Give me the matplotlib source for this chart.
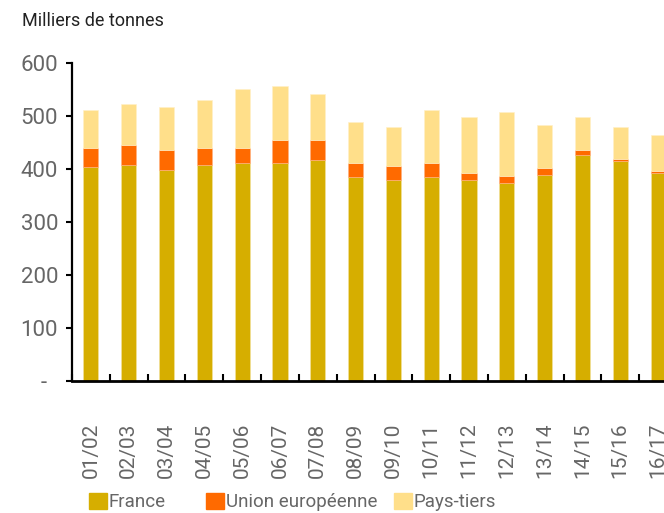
import matplotlib
matplotlib.use("Agg")
import matplotlib.pyplot as plt
import numpy as np
from matplotlib.patches import Patch

campagnes = ["01/02", "02/03", "03/04", "04/05", "05/06", "06/07", "07/08", "08/09",
             "09/10", "10/11", "11/12", "12/13", "13/14", "14/15", "15/16", "16/17"]
france = [403, 408, 398, 408, 412, 412, 417, 384, 379, 384, 379, 374, 389, 427, 416, 393]
union_europeenne = [37, 37, 38, 32, 28, 43, 38, 28, 27, 28, 14, 13, 13, 9, 2, 4]
pays_tiers = [72, 77, 81, 91, 111, 101, 86, 77, 73, 100, 105, 120, 81, 62, 61, 68]
series = ["France", "Union européenne", "Pays-tiers"]

c_fr = "#D6AE00"
c_ue = "#FF6A00"
c_pt = "#FFDF8A"
grey = "#666666"

plt.rcParams['font.family'] = ['Roboto', 'DejaVu Sans']

fig = plt.figure(figsize=(6.64, 5.13), dpi=100)
ax = fig.add_axes([72 / 664, 1 - 381 / 513, 605 / 664, 318 / 513])

x = np.arange(len(campagnes))
fr = np.array(france)
ue = np.array(union_europeenne)
pt = np.array(pays_tiers)
w = 0.4
ax.bar(x, fr, w, color=c_fr, edgecolor="#F3E3A0", linewidth=0.4)
ax.bar(x, ue, w, bottom=fr, color=c_ue, edgecolor="#FFB080", linewidth=0.4)
ax.bar(x, pt, w, bottom=fr + ue, color=c_pt, edgecolor="#FFF0C8", linewidth=0.4)

ax.set_xlim(-0.5, len(campagnes) - 0.5)
ax.set_ylim(0, 600)
ax.set_yticks(range(0, 601, 100))
ax.set_yticklabels(["-  "] + [str(v) for v in range(100, 601, 100)])

ax.set_xticks(x)
ax.set_xticklabels(campagnes, rotation=90, va="top")
ax.set_xticks(np.arange(-0.5, len(campagnes), 1), minor=True)

for s in ["top", "right"]:
    ax.spines[s].set_visible(False)
ax.spines["left"].set_linewidth(1.6)
ax.spines["bottom"].set_linewidth(2.0)

ax.tick_params(axis="y", direction="out", length=4, width=1.5, pad=6,
               labelsize=16, labelcolor=grey)
ax.tick_params(axis="x", which="major", length=0, pad=30, labelsize=15, labelcolor=grey)
ax.tick_params(axis="x", which="minor", direction="in", length=5, width=1.5)

fig.text(22 / 664, 1 - 21 / 513, "Milliers de tonnes", fontsize=13, color="#222222",
         va="center", ha="left")

# one legend per entry, placed like the original
colors = [c_fr, c_ue, c_pt]
x_leg = [89, 206, 394]
for name, col, xl in zip(series, colors, x_leg):
    leg = fig.legend([Patch(color=col)], [name], loc="center left",
                     bbox_to_anchor=(xl / 664, 11 / 513), frameon=False,
                     handlelength=0.95, handleheight=1.0, handletextpad=0.1,
                     borderpad=0, borderaxespad=0,
                     prop={"size": 13.5})
    for t in leg.get_texts():
        t.set_color(grey)

fig.savefig("out.png", dpi=100)
